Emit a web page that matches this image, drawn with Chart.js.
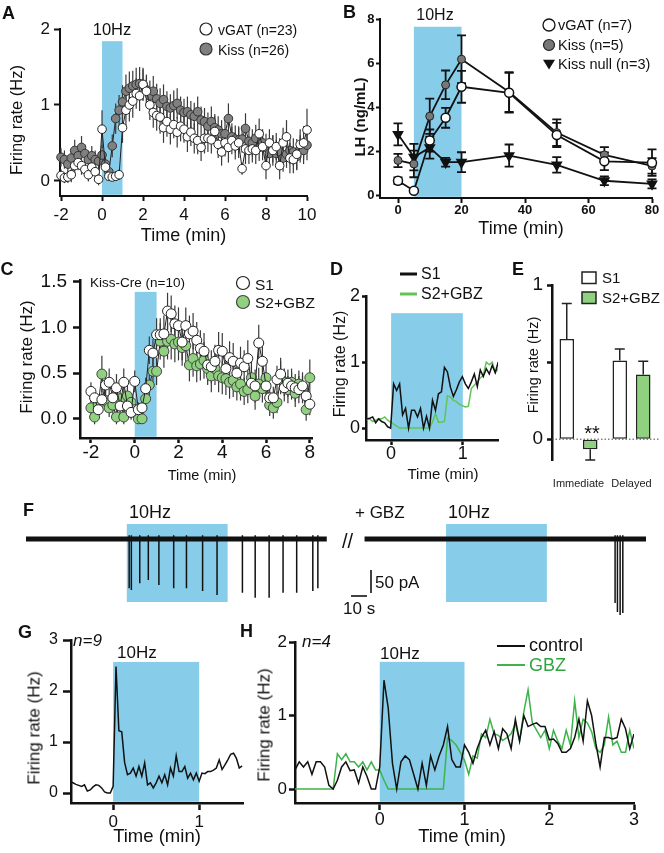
<!DOCTYPE html>
<html><head><meta charset="utf-8">
<script src="https://cdn.jsdelivr.net/npm/chart.js@4.4.1/dist/chart.umd.min.js"></script>
<style>
html,body{margin:0;padding:0;background:#fff;}
#page{position:relative;width:664px;height:853px;overflow:hidden;background:#fff;font-family:'Liberation Sans',Arial,Helvetica,sans-serif;color:#111;}
#page canvas{position:absolute;left:0;top:0;}
.t{position:absolute;white-space:nowrap;}
</style></head><body><div id="page"></div>
<script>
// ---------------- DATA ----------------
// Panel A (10 s bins, -2..10 min)
const aVGAT = [0.07,0.04,0.05,0.08,0.2,0.24,0.2,0.15,0.08,0.18,0.12,0.02,
 0.68,0.18,0.06,0.05,0.06,0.08,
 0.7,0.93,1.0,1.05,1.15,1.12,
 1.27,1.18,1.0,0.9,0.86,0.84,
 0.7,0.78,0.68,0.74,0.64,0.72,
 0.68,0.58,0.64,0.56,0.53,0.44,
 0.56,0.56,0.54,0.65,0.48,0.38,
 0.5,0.44,0.53,0.46,0.5,0.16,
 0.42,0.4,0.42,0.4,0.62,0.45,
 0.2,0.5,0.4,0.45,0.2,0.5,
 0.58,0.3,0.28,0.35,0.48,0.5,
 0.67];
const aVGATerr = [0.08,0.07,0.08,0.1,0.12,0.1,0.12,0.1,0.09,0.1,0.1,0.08,
 0.25,0.12,0.05,0.05,0.06,0.07,
 0.2,0.2,0.22,0.22,0.2,0.2,
 0.2,0.2,0.2,0.2,0.2,0.22,
 0.2,0.2,0.2,0.18,0.2,0.2,
 0.18,0.2,0.18,0.2,0.18,0.18,
 0.2,0.18,0.18,0.2,0.18,0.18,
 0.18,0.2,0.18,0.18,0.2,0.08,
 0.2,0.18,0.18,0.18,0.2,0.18,
 0.18,0.18,0.2,0.18,0.18,0.2,
 0.22,0.2,0.18,0.2,0.2,0.22,
 0.28];
const aKiss = [0.31,0.28,0.22,0.3,0.4,0.33,0.44,0.36,0.28,0.33,0.28,0.26,
 0.34,0.22,0.12,0.46,0.82,0.93,
 1.04,1.18,1.22,1.25,1.27,1.28,
 1.27,1.2,1.12,1.18,1.08,1.02,
 1.07,0.98,0.96,0.99,1.02,0.93,
 0.9,0.91,0.87,0.85,0.91,0.8,
 0.78,0.72,0.78,0.7,0.67,0.62,
 0.62,0.82,0.58,0.55,0.54,0.55,
 0.69,0.52,0.5,0.56,0.44,0.5,
 0.44,0.36,0.42,0.36,0.38,0.3,
 0.35,0.4,0.38,0.32,0.42,0.4,
 0.47];
const aKissErr = [0.12,0.12,0.1,0.12,0.14,0.12,0.15,0.12,0.12,0.13,0.12,0.12,
 0.13,0.12,0.1,0.15,0.2,0.2,
 0.22,0.22,0.22,0.2,0.22,0.22,
 0.22,0.2,0.2,0.2,0.2,0.2,
 0.2,0.2,0.18,0.2,0.2,0.18,
 0.18,0.2,0.18,0.18,0.2,0.18,
 0.18,0.18,0.2,0.18,0.18,0.18,
 0.18,0.2,0.18,0.18,0.18,0.18,
 0.2,0.18,0.18,0.18,0.18,0.18,
 0.18,0.16,0.18,0.18,0.18,0.18,
 0.18,0.18,0.18,0.18,0.18,0.18,
 0.2];
const aXTicks = [-2,0,2,4,6,8,10];
const aYTicks = [0,1,2];

// Panel B (LH)
const bTime = [0,5,10,15,20,35,50,65,80];
const bVGAT = [0.68,0.23,2.5,3.53,4.93,4.66,2.75,1.56,1.5];
const bVGATerr = [0.15,0.05,0.5,0.45,0.72,0.9,0.55,0.4,0.6];
const bKiss = [1.6,1.44,3.6,5.02,6.18,4.7,2.86,1.85,1.35];
const bKissErr = [0.3,0.6,0.8,0.65,1.08,0.9,0.6,0.35,0.35];
const bNull = [2.78,1.75,2.18,1.52,1.52,1.82,1.4,0.68,0.54];
const bNullErr = [0.5,0.6,0.5,0.2,0.45,0.5,0.35,0.2,0.2];
const bXTicks = [0,20,40,60,80];
const bYTicks = [0,2,4,6,8];

// Panel C (10 s bins, -2..8 min)
const cS1 = [0.30,0.23,0.10,0.21,0.37,0.40,0.23,0.34,0.14,0.40,0.14,0.07,
 0.41,0.10,0.12,0.33,0.75,0.72,
 0.92,0.92,0.93,1.18,1.15,1.04,
 1.02,0.84,1.02,0.93,0.96,0.86,
 0.77,0.74,0.59,0.57,0.63,0.75,
 0.74,0.55,0.67,0.63,0.50,0.61,
 0.57,0.66,0.39,0.36,0.83,0.63,
 0.36,0.23,0.23,0.43,0.49,0.34,
 0.39,0.36,0.34,0.32,0.36,0.25,
 0.16];
const cS1err = [0.1,0.1,0.1,0.12,0.15,0.15,0.12,0.15,0.12,0.15,0.1,0.08,
 0.12,0.08,0.08,0.12,0.15,0.15,
 0.18,0.18,0.2,0.2,0.2,0.2,
 0.2,0.2,0.2,0.2,0.2,0.2,
 0.2,0.2,0.18,0.18,0.18,0.2,
 0.2,0.18,0.18,0.2,0.18,0.18,
 0.18,0.2,0.18,0.18,0.2,0.18,
 0.15,0.12,0.12,0.15,0.18,0.15,
 0.15,0.15,0.15,0.15,0.15,0.15,
 0.12];
const cS2 = [0.12,0.02,0.15,0.49,0.2,0.12,0.15,0.02,0.22,0.02,0.25,0.18,
 0.1,0.0,0.0,0.22,0.37,0.52,
 0.52,0.85,0.74,0.85,0.87,0.82,
 0.84,0.78,0.8,0.59,0.66,0.58,
 0.6,0.64,0.55,0.47,0.55,0.47,
 0.45,0.44,0.4,0.42,0.35,0.38,
 0.3,0.32,0.45,0.25,0.38,0.33,
 0.45,0.15,0.12,0.18,0.45,0.4,
 0.32,0.4,0.28,0.38,0.32,0.1,
 0.45];
const cS2err = [0.1,0.08,0.1,0.2,0.12,0.1,0.12,0.08,0.12,0.08,0.12,0.1,
 0.08,0.05,0.05,0.1,0.12,0.15,
 0.15,0.2,0.18,0.2,0.22,0.2,
 0.2,0.2,0.2,0.18,0.2,0.18,
 0.18,0.2,0.18,0.18,0.18,0.18,
 0.18,0.18,0.18,0.18,0.15,0.18,
 0.15,0.15,0.18,0.15,0.18,0.15,
 0.18,0.12,0.12,0.12,0.18,0.15,
 0.15,0.15,0.15,0.15,0.15,0.12,
 0.2];
const cXTicks = [-2,0,2,4,6,8];
const cYTicks = [0,0.5,1,1.5];

// Panel D (2.5 s bins from -0.34 min)
const dS1 = [0.14,0.15,0.17,0.08,0.14,0.1,0.08,0.02,0.0,0.67,
 0.57,0.67,0.2,0.3,0.0,0.27,0.27,0.17,0.3,0.0,
 0.18,0.0,0.42,0.27,0.52,0.55,0.92,0.85,0.62,0.48,
 0.58,0.7,0.78,0.67,0.6,0.7,0.82,0.63,0.88,0.78,
 0.9,0.82,0.95,0.84,1.0];
const dS2 = [0.12,0.14,0.1,0.12,0.14,0.14,0.17,0.12,0.09,0.06,
 0.03,0,0,0,0,0,0,0,0,0,
 0,0,0.09,0.22,0.09,0.09,0.1,0.49,0.47,0.42,
 0.4,0.36,0.34,0.32,0.33,0.6,0.65,0.7,0.76,0.8,
 1.0,0.96,1.0,0.84,0.9];
const dXTicks = [0,1];
const dYTicks = [0,1,2];

// Panel E (bars)
const eCats = ['Immediate','Delayed'];
const eS1 = [0.65,0.51];
const eS1err = [0.23,0.075];
const eS2 = [-0.065,0.42];
const eS2err = [0.07,0.085];
const eYTicks = [0,0.5,1];

// Panel F (trace, seconds / pA)
const fTraceL = [0,179];
const fTraceR = [201.5,369];
const fSpikeT_L = [61.4,62.7,67.7,72.8,79.1,87.9,95.5,105.1,113.7,128.8,136.4,144.7,153.0,161.1,170.7,173.7];
const fSpikeA_L = [107,111,96,89,100,107,107,113,122,117,128,128,117,117,113,107];
const fSpikeT_R = [350.6,352.0,353.6,355.2];
const fSpikeA_R = [139,159,165,161];
const fStim = [[60,120],[250,310]];

// Panel G (2 s bins from -0.5 min)
const gRate = [0.22,0.2,0.17,0.15,0.13,0.16,0.04,0.06,0.12,0.16,
 0.15,0.1,0.02,0.0,0.0,0.13,2.48,1.22,1.2,0.6,
 0.36,0.39,0.49,0.33,0.52,0.33,0.59,0.16,0.2,0.1,
 0.2,0.33,0.2,0.36,0.16,0.49,0.33,0.73,0.42,0.42,
 0.52,0.29,0.39,0.26,0.39,0.23,0.39,0.38,0.42,0.42,
 0.45,0.49,0.65,0.46,0.55,0.65,0.76,0.78,0.68,0.49,
 0.53];
const gXTicks = [0,1];
const gYTicks = [0,1,2,3];

// Panel H (3 s bins from -1 min)
const hCtrl = [0.26,0.37,0.3,0.37,0.2,0.37,0.37,0.3,0.05,0.0,
 0.12,0.3,0.37,0.25,0.26,0.08,0.3,0.17,0.0,0.0,
 0.3,1.48,1.1,0.35,0.0,0.37,0.45,0.4,0.2,0.0,
 0.35,0.05,0.45,0.26,0.45,0.6,0.85,0.4,0.3,0.3,
 0.6,0.5,0.35,0.55,0.7,0.8,0.6,0.78,0.55,0.82,
 0.75,0.55,0.95,0.65,1.0,0.85,0.88,0.9,0.85,0.85,
 0.67,0.68,0.62,0.5,0.5,0.55,0.7,0.95,0.65,1.2,
 1.0,0.62,0.3,0.7,0.7,0.68,0.7,0.95,0.82,0.55,
 0.75];
const hGBZ = [0,0,0,0,0,0,0,0,0,0,
 0.48,0.4,0.48,0.37,0.37,0.3,0.37,0.26,0.37,0.26,
 0.26,0.12,0,0,0,0,0,0,0,0,
 0,0,0,0,0,0,0.7,0.66,0.6,0.5,
 0.39,0.2,0.45,0.42,0.75,0.7,0.95,0.75,0.73,0.66,
 0.7,0.75,0.89,0.66,1.05,1.35,0.9,0.8,0.7,0.8,
 0.55,0.8,0.65,0.55,0.8,0.6,1.2,0.7,0.95,0.9,
 0.78,0.55,0.5,0.6,0.98,0.6,0.65,0.5,0.5,0.8,
 0.55];
const hXTicks = [0,1,2,3];
const hYTicks = [0,1,2];

// ---------------- HELPERS ----------------
const W = 664, H = 853;
const BLUE = '#87cdea';
const GFILL = '#8fd17f';
const page = document.getElementById('page');
Chart.defaults.font.family = "'Liberation Sans', Arial, Helvetica, sans-serif";
Chart.defaults.color = '#111';

const bins = (start, step, n) => Array.from({length: n}, (_, i) => start + i * step);
const pts = (xs, ys) => ys.map((v, i) => ({x: xs[i], y: v}));

function drawItems(ctx, items) {
  (items || []).forEach(it => {
    ctx.save();
    ctx.lineWidth = it.lw || 1.2;
    ctx.strokeStyle = it.stroke || '#111';
    ctx.fillStyle = it.fill || '#fff';
    if (it.k === 'circle') { ctx.beginPath(); ctx.arc(it.x, it.y, it.r, 0, Math.PI * 2); ctx.fill(); ctx.stroke(); }
    else if (it.k === 'tri') { ctx.beginPath(); ctx.moveTo(it.x - it.r, it.y - it.r * 0.7); ctx.lineTo(it.x + it.r, it.y - it.r * 0.7); ctx.lineTo(it.x, it.y + it.r * 0.9); ctx.closePath(); ctx.fill(); }
    else if (it.k === 'line') { ctx.beginPath(); ctx.moveTo(it.x0, it.y0); ctx.lineTo(it.x1, it.y1); ctx.stroke(); }
    else if (it.k === 'rect') { ctx.fillRect(it.x, it.y, it.w, it.h); ctx.strokeRect(it.x, it.y, it.w, it.h); }
    ctx.restore();
  });
}

const deco = {
  id: 'deco',
  beforeDatasetsDraw(chart, args, o) {
    const {ctx, chartArea: ca} = chart;
    const x = chart.scales.x, y = chart.scales.y;
    (o.bands || []).forEach(b => {
      const px0 = x.getPixelForValue(b.x0), px1 = x.getPixelForValue(b.x1);
      const py0 = y.getPixelForValue(b.top);
      const py1 = b.bottom == null ? ca.bottom - 1.2 : y.getPixelForValue(b.bottom);
      ctx.save(); ctx.fillStyle = BLUE; ctx.fillRect(px0, py0, px1 - px0, py1 - py0); ctx.restore();
    });
    chart.data.datasets.forEach((ds, di) => {
      if (!ds.err) return;
      const meta = chart.getDatasetMeta(di);
      ctx.save();
      ctx.strokeStyle = ds.errColor || '#333';
      ctx.lineWidth = ds.errWidth || 1.2;
      meta.data.forEach((el, i) => {
        const v = meta.controller.getParsed(i).y;
        const e = ds.err[i];
        let a, b;
        if (ds.errOut) { a = v; b = v + (v < 0 ? -e : e); }
        else { a = v - e; b = v + e; }
        const pa = y.getPixelForValue(a), pb = y.getPixelForValue(b);
        ctx.beginPath(); ctx.moveTo(el.x, pa); ctx.lineTo(el.x, pb);
        if (ds.cap) {
          if (!ds.errOut) { ctx.moveTo(el.x - ds.cap, pa); ctx.lineTo(el.x + ds.cap, pa); }
          ctx.moveTo(el.x - ds.cap, pb); ctx.lineTo(el.x + ds.cap, pb);
        }
        ctx.stroke();
      });
      ctx.restore();
    });
  },
  afterDatasetsDraw(chart, args, o) {
    const {ctx, chartArea: ca} = chart;
    if (o.zeroLine) {
      const py = chart.scales.y.getPixelForValue(0);
      ctx.save(); ctx.strokeStyle = '#444'; ctx.lineWidth = 1; ctx.setLineDash([1.5, 2]);
      ctx.beginPath(); ctx.moveTo(ca.left, py); ctx.lineTo(ca.right + 2, py); ctx.stroke(); ctx.restore();
    }
  },
  afterDraw(chart, args, o) { drawItems(chart.ctx, o.items); }
};
Chart.register(deco);

function lin(min, max, ticks, o) {
  return {
    type: 'linear', min, max,
    afterBuildTicks: s => { s.ticks = ticks.map(v => ({value: v})); },
    ticks: {
      font: {size: o.size, weight: o.bold ? 'bold' : 'normal', lineHeight: 1},
      color: '#111', padding: o.pad, maxRotation: 0, autoSkip: false,
      callback: o.fmt || (v => String(v))
    },
    grid: {display: true, drawOnChartArea: false, drawTicks: true, tickLength: o.tl, tickWidth: o.lw, tickColor: '#111', color: '#111'},
    border: {display: true, width: o.lw, color: '#111'}
  };
}

function makeChart(area, type, data, xs, ys, decoOpts) {
  const cv = document.createElement('canvas');
  cv.width = W; cv.height = H; cv.style.width = W + 'px'; cv.style.height = H + 'px';
  page.appendChild(cv);
  xs.afterFit = s => { s.height = H - area.y1; s.paddingLeft = 0; s.paddingRight = 0; };
  ys.afterFit = s => { s.width = area.x0; s.paddingTop = 0; s.paddingBottom = 0; };
  return new Chart(cv, {
    type, data,
    options: {
      responsive: false, animation: false, devicePixelRatio: 1, events: [],
      layout: {padding: {left: 0, top: area.y0, right: W - area.x1, bottom: 0}},
      scales: {x: xs, y: ys},
      plugins: {legend: {display: false}, tooltip: {enabled: false}, deco: decoOpts || {}}
    }
  });
}

function txt(s, x, bl, size, o = {}) {
  const d = document.createElement('div');
  d.className = 't'; d.textContent = s;
  d.style.fontSize = size + 'px'; d.style.lineHeight = size + 'px';
  if (o.bold) d.style.fontWeight = 'bold';
  if (o.italic) d.style.fontStyle = 'italic';
  if (o.color) d.style.color = o.color;
  if (o.family) d.style.fontFamily = o.family;
  if (o.rot) {
    d.style.left = (x - 0.3465 * size) + 'px';
    d.style.top = bl + 'px';
    d.style.transform = 'translate(-50%,-50%) rotate(-90deg)';
  } else {
    d.style.left = x + 'px';
    d.style.top = (bl - 0.8465 * size) + 'px';
    if (o.center) d.style.transform = 'translateX(-50%)';
  }
  page.appendChild(d);
}

const scatterDs = (label, xs, ys, err, o) => Object.assign({
  label, data: pts(xs, ys), err, showLine: true, borderColor: '#222', borderWidth: 1,
  pointRadius: 4.3, pointBorderWidth: 1, pointBorderColor: '#222', clip: false, tension: 0
}, o);

// ---------------- PANEL A ----------------
const tA = bins(-2, 1 / 6, aVGAT.length);
makeChart({x0: 60, y0: 29, x1: 307, y1: 196}, 'line', {datasets: [
  scatterDs('vGAT (n=23)', tA, aVGAT, aVGATerr, {pointBackgroundColor: '#fff', errColor: '#3a3a3a'}),
  scatterDs('Kiss (n=26)', tA, aKiss, aKissErr, {pointBackgroundColor: '#808080', pointBorderColor: '#333', errColor: '#3a3a3a'})
]},
  lin(-2.05, 10, aXTicks, {size: 17, pad: 6, tl: 5, lw: 2}),
  lin(-0.2, 2, aYTicks, {size: 17, pad: 4, tl: 6, lw: 2}),
  {bands: [{x0: 0, x1: 1, top: 1.84}],
   items: [{k: 'circle', x: 206, y: 29, r: 6, fill: '#fff', stroke: '#222'},
           {k: 'circle', x: 206, y: 49, r: 6, fill: '#808080', stroke: '#333'}]});

// ---------------- PANEL B ----------------
makeChart({x0: 380, y0: 19, x1: 652, y1: 198}, 'line', {datasets: [
  {label: 'vGAT (n=7)', data: pts(bTime, bVGAT), err: bVGATerr, cap: 4.5, errColor: '#111', errWidth: 1.8,
   borderColor: '#111', borderWidth: 1.8, pointRadius: 4.5, pointBackgroundColor: '#fff', pointBorderColor: '#111', pointBorderWidth: 1.5, clip: false},
  {label: 'Kiss (n=5)', data: pts(bTime, bKiss), err: bKissErr, cap: 4.5, errColor: '#111', errWidth: 1.8,
   borderColor: '#111', borderWidth: 1.8, pointRadius: 4, pointBackgroundColor: '#777', pointBorderColor: '#222', pointBorderWidth: 1, clip: false},
  {label: 'Kiss null (n=3)', data: pts(bTime, bNull), err: bNullErr, cap: 4.5, errColor: '#111', errWidth: 1.8,
   borderColor: '#111', borderWidth: 1.8, pointStyle: 'triangle', rotation: 180, pointRadius: 5, pointBackgroundColor: '#111', pointBorderColor: '#111', clip: false}
]},
  lin(-5.67, 80, bXTicks, {size: 13, bold: true, pad: 0.5, tl: 5, lw: 2}),
  lin(-0.1, 8, bYTicks, {size: 13, bold: true, pad: 1.5, tl: 4, lw: 2}),
  {bands: [{x0: 5, x1: 20, top: 7.65}],
   items: [{k: 'circle', x: 549, y: 25, r: 6, fill: '#fff', stroke: '#111', lw: 1.3},
           {k: 'circle', x: 549, y: 45, r: 5.5, fill: '#777', stroke: '#222'},
           {k: 'tri', x: 549, y: 64, r: 6, fill: '#111'}]});

// ---------------- PANEL C ----------------
const tC = bins(-2, 1 / 6, cS1.length);
makeChart({x0: 80, y0: 280, x1: 312, y1: 438}, 'line', {datasets: [
  scatterDs('S1', tC, cS1, cS1err, {pointRadius: 5, pointBackgroundColor: '#fff', errColor: '#3a3a3a'}),
  scatterDs('S2+GBZ', tC, cS2, cS2err, {pointRadius: 5, pointBackgroundColor: GFILL, pointBorderColor: '#444', errColor: '#3a3a3a'})
]},
  lin(-2.5, 8.1, cXTicks, {size: 19, pad: 0.5, tl: 5, lw: 2.5}),
  lin(-0.21, 1.52, cYTicks, {size: 19, pad: 6, tl: 7, lw: 2.5, fmt: v => v.toFixed(1)}),
  {bands: [{x0: 0, x1: 1, top: 1.39}],
   items: [{k: 'circle', x: 243, y: 283, r: 6.5, fill: '#fff', stroke: '#222'},
           {k: 'circle', x: 243, y: 302, r: 6.5, fill: GFILL, stroke: '#444'}]});

// ---------------- PANEL D ----------------
const tD = bins(-0.34, 1 / 24, dS1.length);
makeChart({x0: 366, y0: 296, x1: 498, y1: 440}, 'line', {datasets: [
  {label: 'S1', data: pts(tD, dS1), borderColor: '#111', borderWidth: 1.5, pointRadius: 0, tension: 0},
  {label: 'S2+GBZ', data: pts(tD, dS2), borderColor: '#62c455', borderWidth: 1.5, pointRadius: 0, tension: 0}
]},
  lin(-0.35, 1.49, dXTicks, {size: 18, pad: 0, tl: 5, lw: 2.5}),
  lin(-0.18, 2, dYTicks, {size: 18, pad: 2, tl: 4, lw: 2.5}),
  {bands: [{x0: 0, x1: 1, top: 1.74}],
   items: [{k: 'line', x0: 400, x1: 417, y0: 274, y1: 274, stroke: '#111', lw: 3},
           {k: 'line', x0: 400, x1: 417, y0: 294, y1: 294, stroke: '#62c455', lw: 3}]});

// ---------------- PANEL E ----------------
(function () {
  const xs = {
    type: 'category', offset: true,
    grid: {display: false}, border: {display: false},
    ticks: {font: {size: 11, lineHeight: 1},
            color: '#222', padding: 10, maxRotation: 0, minRotation: 0, autoSkip: false}
  };
  const ys = lin(-0.135, 1, eYTicks, {size: 19, pad: 4, tl: 5, lw: 2.5, fmt: v => (v === 0.5 ? '' : String(v))});
  makeChart({x0: 552, y0: 285, x1: 658, y1: 460}, 'bar', {labels: eCats, datasets: [
    {label: 'S1', data: eS1, err: eS1err, errOut: true, cap: 5, errColor: '#222', errWidth: 1.5,
     backgroundColor: '#fff', borderColor: '#222', borderWidth: 1.5, borderSkipped: false,
     categoryPercentage: 0.887, barPercentage: 0.617},
    {label: 'S2+GBZ', data: eS2, err: eS2err, errOut: true, cap: 5, errColor: '#222', errWidth: 1.5,
     backgroundColor: GFILL, borderColor: '#222', borderWidth: 1.5, borderSkipped: false,
     categoryPercentage: 0.887, barPercentage: 0.617}
  ]}, xs, ys, {zeroLine: true,
    items: [{k: 'rect', x: 582, y: 272, w: 14, h: 11.5, fill: '#fff', stroke: '#222', lw: 1.5},
            {k: 'rect', x: 582, y: 292, w: 14, h: 11.5, fill: GFILL, stroke: '#222', lw: 1.5}]});
})();

// ---------------- PANEL F ----------------
(function () {
  const spikes = (ts, amps) => {
    const p = [];
    ts.forEach((t, i) => { p.push({x: t, y: 8}, {x: t, y: -amps[i]}, {x: t, y: null}); });
    return p;
  };
  const cv = document.createElement('canvas');
  cv.width = W; cv.height = H; cv.style.width = W + 'px'; cv.style.height = H + 'px';
  page.appendChild(cv);
  new Chart(cv, {
    type: 'line',
    data: {datasets: [
      {data: fTraceL.map(t => ({x: t, y: 0})), borderColor: '#111', borderWidth: 5, pointRadius: 0},
      {data: fTraceR.map(t => ({x: t, y: 0})), borderColor: '#111', borderWidth: 5, pointRadius: 0},
      {data: spikes(fSpikeT_L, fSpikeA_L), borderColor: '#111', borderWidth: 1.5, pointRadius: 0, spanGaps: false},
      {data: spikes(fSpikeT_R, fSpikeA_R), borderColor: '#111', borderWidth: 1.5, pointRadius: 0, spanGaps: false}
    ]},
    options: {
      responsive: false, animation: false, devicePixelRatio: 1, events: [],
      layout: {padding: {left: 26, right: W - 646, top: 500, bottom: H - 625}},
      scales: {x: {type: 'linear', min: 0, max: 369, display: false}, y: {type: 'linear', min: -187, max: 84.8, display: false}},
      plugins: {legend: {display: false}, tooltip: {enabled: false},
        deco: {bands: fStim.map(s => ({x0: s[0], x1: s[1], top: 32.6, bottom: -137})),
          items: [{k: 'line', x0: 371, x1: 371, y0: 570, y1: 593, stroke: '#111', lw: 1.6},
                  {k: 'line', x0: 351, x1: 367, y0: 596, y1: 596, stroke: '#111', lw: 1.6}]}}
    }
  });
})();

// ---------------- PANEL G ----------------
const tG = bins(-0.5, 1 / 30, gRate.length);
makeChart({x0: 71, y0: 640, x1: 243, y1: 803}, 'line', {datasets: [
  {label: 'rate', data: pts(tG, gRate), borderColor: '#111', borderWidth: 1.5, pointRadius: 0, tension: 0}
]},
  lin(-0.49, 1.51, gXTicks, {size: 17, pad: 4.3, tl: 7, lw: 2.5}),
  lin(-0.196, 3, gYTicks, {size: 16, pad: 5, tl: 8, lw: 2.5}),
  {bands: [{x0: 0, x1: 1, top: 2.57}]});

// ---------------- PANEL H ----------------
const tH = bins(-1, 1 / 20, hCtrl.length);
makeChart({x0: 295, y0: 642, x1: 634, y1: 803}, 'line', {datasets: [
  {label: 'control', data: pts(tH, hCtrl), borderColor: '#111', borderWidth: 1.5, pointRadius: 0, tension: 0},
  {label: 'GBZ', data: pts(tH, hGBZ), borderColor: '#3cb44a', borderWidth: 1.5, pointRadius: 0, tension: 0}
]},
  lin(-1, 3, hXTicks, {size: 18, pad: 1, tl: 7, lw: 2.5}),
  lin(-0.19, 2, hYTicks, {size: 17, pad: 2, tl: 6, lw: 2.5}),
  {bands: [{x0: 0, x1: 1, top: 1.73}],
   items: [{k: 'line', x0: 497, x1: 525, y0: 646, y1: 646, stroke: '#111', lw: 2},
           {k: 'line', x0: 497, x1: 525, y0: 665, y1: 665, stroke: '#3cb44a', lw: 2}]});

// ---------------- TEXT ----------------
[['A', 2, 19], ['B', 343, 18], ['C', 0.5, 275], ['D', 330, 275], ['E', 512, 275],
 ['F', 23, 516], ['G', 18, 638], ['H', 240, 637]].forEach(p => txt(p[0], p[1], p[2], 18, {bold: true}));

// A
txt('10Hz', 112, 35, 16.5, {center: true});
txt('vGAT (n=23)', 218, 34.5, 14);
txt('Kiss (n=26)', 218, 54.5, 14);
txt('Firing rate (Hz)', 22, 120, 16.5, {rot: true});
txt('Time (min)', 183.5, 241.5, 18, {center: true});
// B
txt('10Hz', 435, 21, 16, {center: true});
txt('vGAT (n=7)', 558, 30.7, 14.5);
txt('Kiss (n=5)', 558, 50, 14.5);
txt('Kiss null (n=3)', 558, 69.3, 14.5);
txt('LH (ng/mL)', 364, 117, 15, {rot: true, bold: true});
txt('Time (min)', 521, 234, 18, {center: true});
// C
txt('Kiss-Cre (n=10)', 90, 287, 13.5);
txt('S1', 255, 290, 15.5);
txt('S2+GBZ', 255, 308.5, 15.5);
txt('Firing rate (Hz)', 32, 357, 17, {rot: true});
txt('Time (min)', 202, 480, 14.5, {center: true});
// D
txt('S1', 421, 280, 16);
txt('S2+GBZ', 421, 300, 16);
txt('Firing rate (Hz)', 346, 364, 16, {rot: true});
txt('Time (min)', 443, 479, 15, {center: true});
// E
txt('S1', 602, 283, 15);
txt('S2+GBZ', 602, 303, 15);
txt('Firing rate (Hz)', 538, 365, 14.5, {rot: true});
txt('**', 592, 440, 20, {center: true});
// F
txt('10Hz', 129, 518, 18);
txt('+ GBZ', 355, 518, 17);
txt('10Hz', 448, 518, 18);
txt('//', 342, 548, 20);
txt('50 pA', 375, 588, 17);
txt('10 s', 343, 614, 17);
// G
txt('n=9', 73, 646.5, 17, {italic: true});
txt('10Hz', 117, 658.5, 17);
txt('Firing rate (Hz)', 39.5, 727.5, 17, {rot: true});
txt('Time (min)', 157, 843, 18.5, {center: true});
// H
txt('n=4', 302, 647, 17, {italic: true});
txt('10Hz', 380, 659, 17);
txt('control', 529, 651.5, 18);
txt('GBZ', 529, 671.5, 18, {color: '#2fa540'});
txt('Firing rate (Hz)', 270, 725, 17, {rot: true});
txt('Time (min)', 462, 843, 18.5, {center: true});
</script>
</body></html>
